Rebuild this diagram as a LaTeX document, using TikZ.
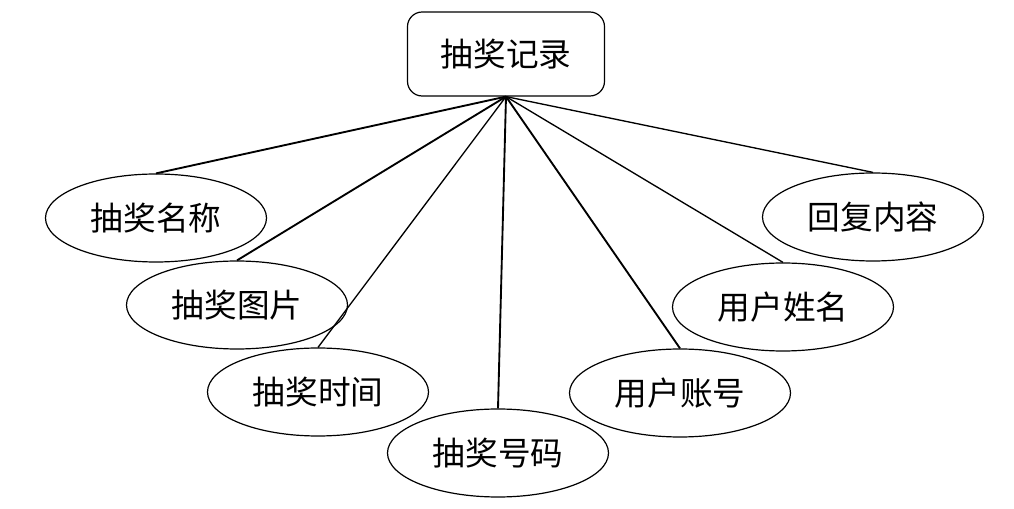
\documentclass[tikz,border=0pt]{standalone}
\usepackage{fontspec}
\newfontfamily\cjk{Noto Sans CJK SC}
\usetikzlibrary{shapes.geometric}

\begin{document}
\begin{tikzpicture}[x=0.75pt, y=-0.75pt, font=\cjk\fontsize{24.5}{28}\selectfont,
  attr/.style={draw, ellipse, line width=0.9pt, minimum width=165.75pt, minimum height=66pt, inner sep=0pt},
  entity/.style={draw, rounded corners=11pt, line width=0.9pt, minimum width=147.75pt, minimum height=63pt},
  link/.style={line width=1.4pt},
  thinlink/.style={line width=1pt}]
  \useasboundingbox (0,0) rectangle (1014,509);
  % entity
  \node[entity] (rec) at (506,54) {抽奖记录};
  % attributes, left side
  \node[attr] (name) at (156,218) {抽奖名称};
  \node[attr] (pic) at (237,305) {抽奖图片};
  \node[attr] (time) at (318,392) {抽奖时间};
  \node[attr] (num) at (498,453) {抽奖号码};
  % attributes, right side
  \node[attr] (acct) at (680,393) {用户账号};
  \node[attr] (uname) at (783,307) {用户姓名};
  \node[attr] (reply) at (873,217) {回复内容};
  % connectors
  \foreach \a in {name,pic,num,acct}{\draw[link] (rec.south) -- (\a.north);}
  \foreach \a in {time,uname,reply}{\draw[thinlink] (rec.south) -- (\a.north);}
\end{tikzpicture}
\end{document}
